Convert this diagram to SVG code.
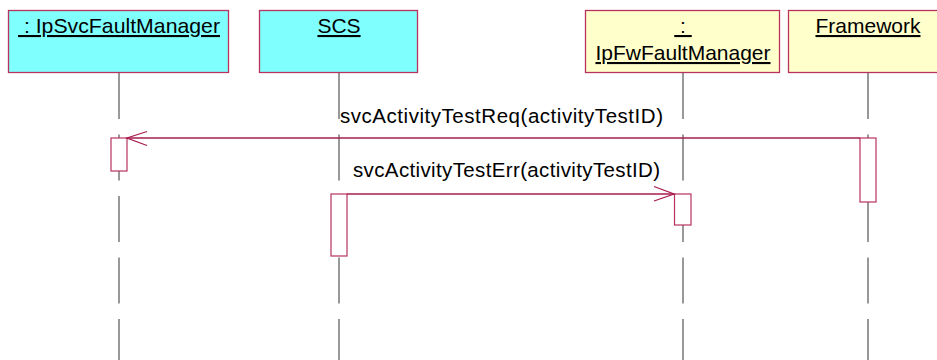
<svg xmlns="http://www.w3.org/2000/svg" width="937" height="360" viewBox="0 0 937 360">
<style>
.box{stroke:#b8325e;stroke-width:1.3}
.cyan{fill:#80ffff}
.yellow{fill:#ffffcc}
.title{font-family:"Liberation Sans",Arial,sans-serif;font-size:21px;fill:#000;text-anchor:middle;text-decoration:underline}
.life{stroke:#555;stroke-width:1.2;stroke-dasharray:46 15.5;fill:none}
.act{fill:#fff;stroke:#b8325e;stroke-width:1.2}
.msg{stroke:#a81c4e;stroke-width:1.3;fill:none}
.lbl{font-family:"Liberation Sans",Arial,sans-serif;font-size:20.5px;fill:#000}
</style>
<rect width="937" height="360" fill="#fff"/>
<g id="lifelines">
<line class="life" x1="119" y1="73" x2="119" y2="360"/>
<line class="life" x1="339" y1="73" x2="339" y2="360"/>
<line class="life" x1="683" y1="73" x2="683" y2="360"/>
<line class="life" x1="868" y1="73" x2="868" y2="360"/>
</g>
<g id="node-IpSvcFaultManager">
<rect class="box cyan" x="8.5" y="10.5" width="220" height="62"/>
<text class="title" x="119" y="33" xml:space="preserve" textLength="202" lengthAdjust="spacingAndGlyphs"> : IpSvcFaultManager</text>
<rect class="act" x="111" y="138" width="16" height="33"/>
</g>
<g id="node-SCS">
<rect class="box cyan" x="259.5" y="10.5" width="158" height="62"/>
<text class="title" x="339" y="33">SCS</text>
<rect class="act" x="331" y="194" width="16" height="62"/>
</g>
<g id="node-IpFwFaultManager">
<rect class="box yellow" x="585.5" y="10.5" width="194" height="62"/>
<text class="title" x="683" y="33" xml:space="preserve"> : </text>
<text class="title" x="683" y="60">IpFwFaultManager</text>
<rect class="act" x="674.5" y="194" width="16.5" height="31"/>
</g>
<g id="node-Framework">
<rect class="box yellow" x="788.5" y="10.5" width="160" height="62"/>
<text class="title" x="868" y="33">Framework</text>
<rect class="act" x="860" y="138" width="16" height="64"/>
</g>
<g id="connectors">
<line class="msg" x1="860" y1="138" x2="127" y2="138"/>
<polyline class="msg" points="147,131.5 127,138 147,145.5"/>
<text class="lbl" x="340" y="123" textLength="323" lengthAdjust="spacing">svcActivityTestReq(activityTestID)</text>
<line class="msg" x1="347" y1="194" x2="674" y2="194"/>
<polyline class="msg" points="654,186.5 674,194 654,201"/>
<text class="lbl" x="353" y="177" textLength="307" lengthAdjust="spacing">svcActivityTestErr(activityTestID)</text>
</g>
</svg>
